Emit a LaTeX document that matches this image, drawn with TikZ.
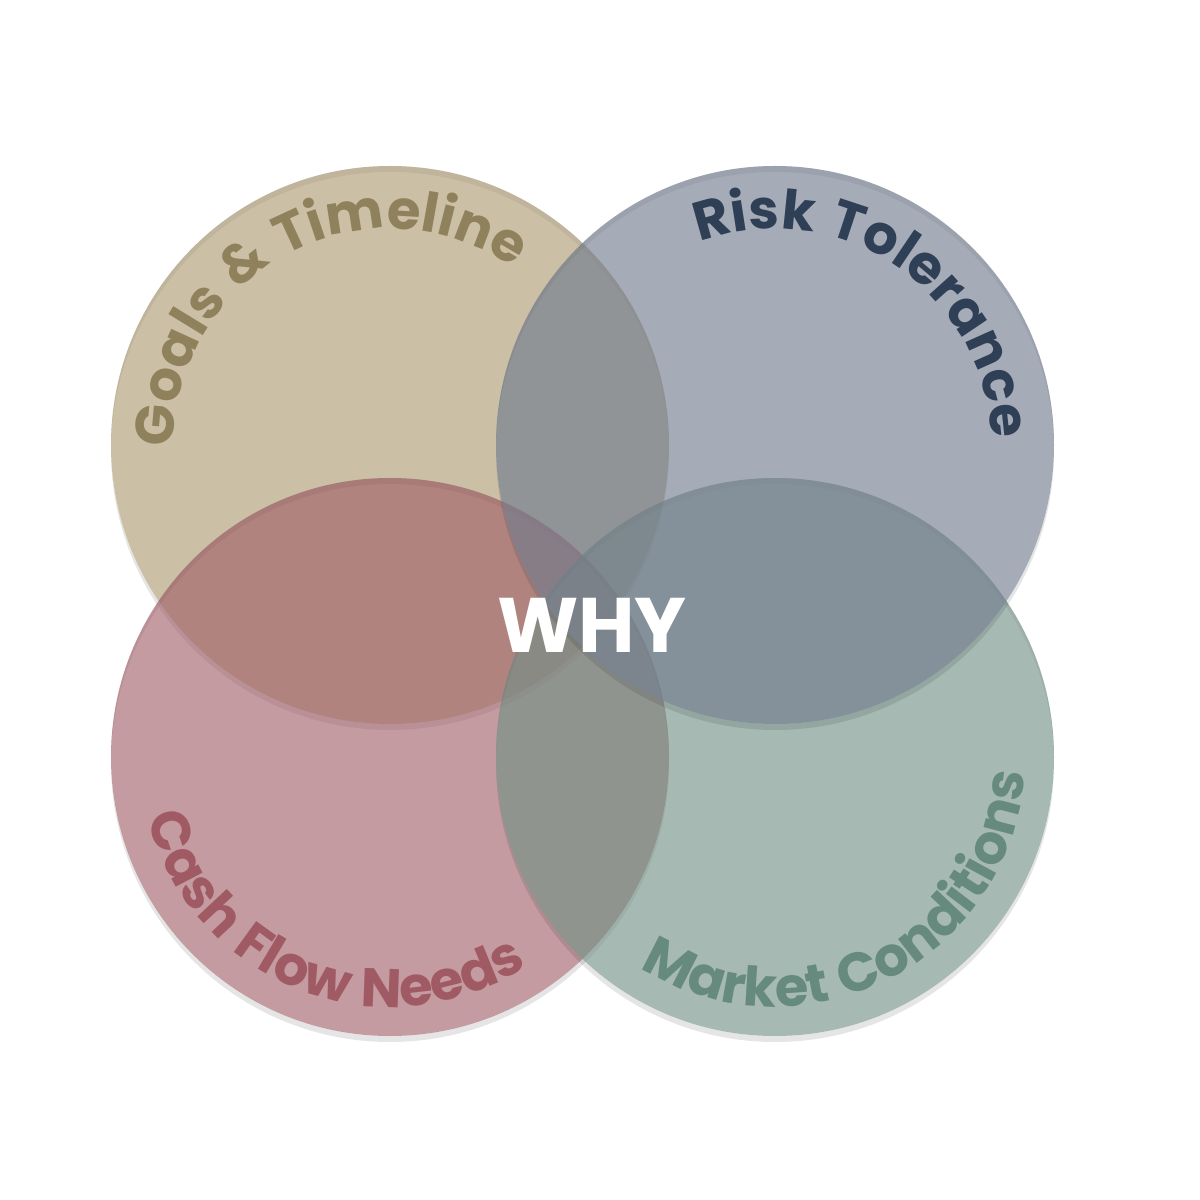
\documentclass[tikz,border=0pt]{standalone}
\usepackage{fontspec}
\setmainfont{Poppins}
\usetikzlibrary{positioning,decorations.text}

\definecolor{goalsfill}{HTML}{AC9B72}
\definecolor{riskfill}{HTML}{717B8E}
\definecolor{cashfill}{HTML}{A16068}
\definecolor{marketfill}{HTML}{729086}
\definecolor{goalstext}{HTML}{8F815C}
\definecolor{risktext}{HTML}{2F3F55}
\definecolor{cashtext}{HTML}{A05A64}
\definecolor{markettext}{HTML}{668A7E}

\newcommand{\arcfont}{\fontsize{15.5}{15.5}\selectfont\bfseries\addfontfeatures{LetterSpace=5}}

\begin{document}
\begin{tikzpicture}[
  venn/.style={circle, minimum size=5.58cm, inner sep=0pt, fill opacity=0.63},
  rim/.style={fill=black, fill opacity=0.10, even odd rule},
  arclabel/.style={decorate, decoration={text along path, text align=center}}
]
  \useasboundingbox (0,0) rectangle (12,12);

  % Circles (back to front), each with a soft rim below
  \fill[rim] (3.90,7.49) circle (2.79) (3.90,7.55) circle (2.79);
  \node[venn, fill=goalsfill] (goals) at (3.90,7.55) {};
  \fill[rim] (3.90,4.37) circle (2.79) (3.90,4.43) circle (2.79);
  \node[venn, fill=cashfill] (cash) at (3.90,4.43) {};
  \fill[rim] (7.75,4.37) circle (2.79) (7.75,4.43) circle (2.79);
  \node[venn, fill=marketfill] (market) at (7.75,4.43) {};
  \fill[rim] (7.75,7.49) circle (2.79) (7.75,7.55) circle (2.79);
  \node[venn, fill=riskfill] (risk) at (7.75,7.55) {};

  % Curved labels
  \path[arclabel, decoration={text={|\arcfont\color{goalstext}|Goals {\&} Timeline}}]
    ([shift={(200:2.16)}]goals.center) arc[start angle=200, end angle=35.6, radius=2.16];
  \path[arclabel, decoration={text={|\arcfont\color{risktext}|Risk Tolerance}}]
    ([shift={(140:2.16)}]risk.center) arc[start angle=140, end angle=-28, radius=2.16];
  \path[arclabel, decoration={text={|\arcfont\color{cashtext}|Cash Flow Needs}}]
    ([shift={(160:2.50)}]cash.center) arc[start angle=160, end angle=337.4, radius=2.50];
  \path[arclabel, decoration={text={|\arcfont\color{markettext}|Market Conditions}}]
    ([shift={(210:2.50)}]market.center) arc[start angle=210, end angle=383.8, radius=2.50];

  % Centre word
  \node[font=\fontsize{22}{22}\selectfont\bfseries, text=white] (why) at (5.92,5.75) {WHY};
\end{tikzpicture}
\end{document}
